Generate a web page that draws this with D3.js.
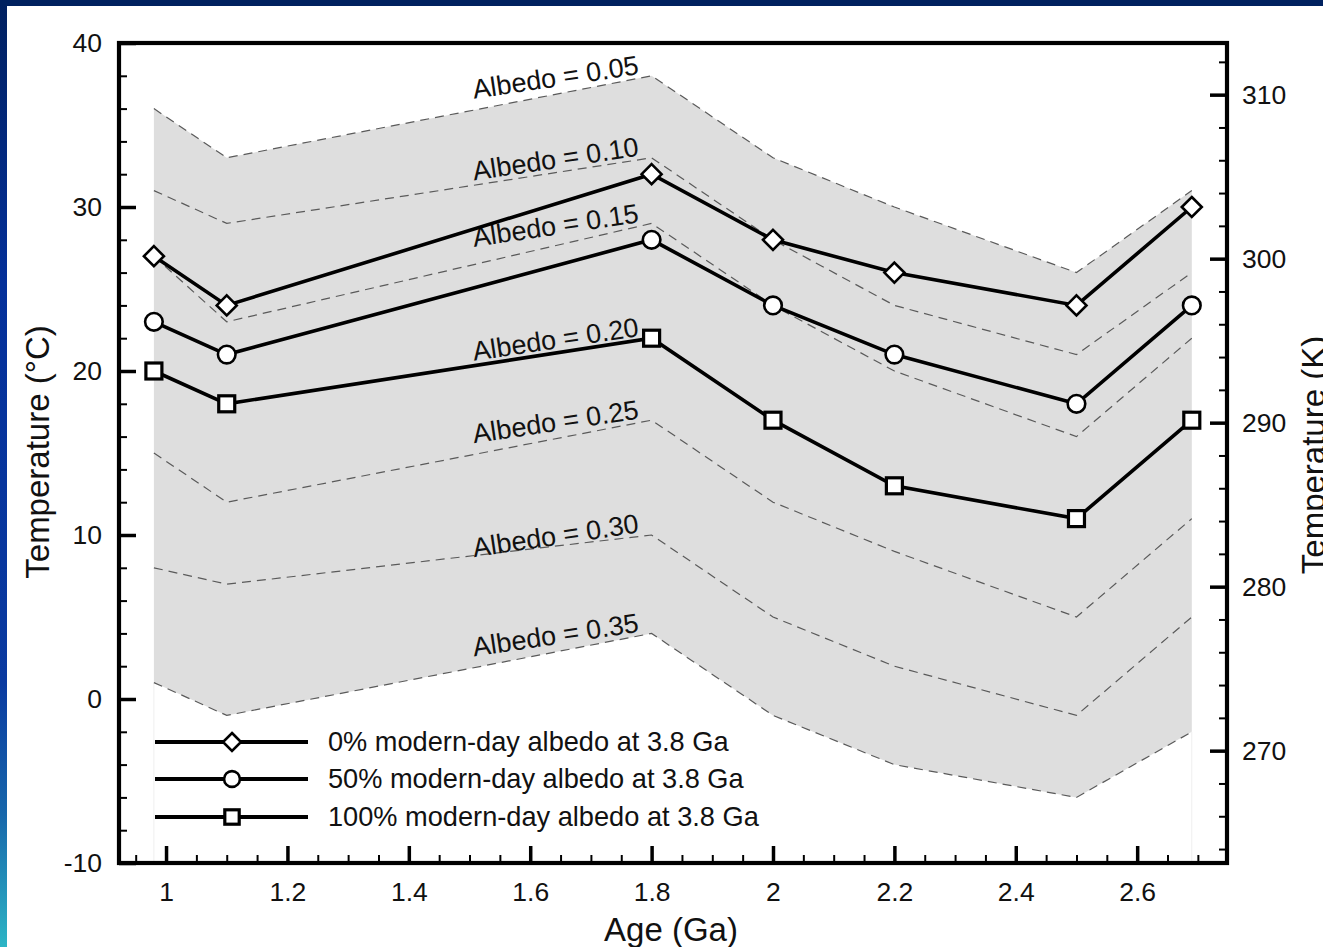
<!DOCTYPE html>
<html><head><meta charset="utf-8">
<script src="https://cdn.jsdelivr.net/npm/d3@7"></script>
<style>html,body{margin:0;padding:0;background:#fff;overflow:hidden}</style>
</head><body>
<svg id="c" width="1323" height="947"></svg>
<script>
// ---- data ----
const ages = [0.98, 1.1, 1.8, 2.0, 2.2, 2.5, 2.69];
const series0 = [27, 24, 32, 28, 26, 24, 30];
const series50 = [23, 21, 28, 24, 21, 18, 24];
const series100 = [20, 18, 22, 17, 13, 11, 17];
const albedo05 = [36, 33, 38, 33, 30, 26, 31];
const albedo10 = [31, 29, 33, 28, 24, 21, 26];
const albedo15 = [27, 23, 29, 24, 20, 16, 22];
const albedo20 = [20, 18, 22, 17, 13, 11, 17];
const albedo25 = [15, 12, 17, 12, 9, 5, 11];
const albedo30 = [8, 7, 10, 5, 2, -1, 5];
const albedo35 = [1, -1, 4, -1, -4, -6, -2];
const albedoNames = ["Albedo = 0.05", "Albedo = 0.10", "Albedo = 0.15", "Albedo = 0.20", "Albedo = 0.25", "Albedo = 0.30", "Albedo = 0.35"];
const seriesNames = ["0% modern-day albedo at 3.8 Ga", "50% modern-day albedo at 3.8 Ga", "100% modern-day albedo at 3.8 Ga"];
const xTicks = [1, 1.2, 1.4, 1.6, 1.8, 2, 2.2, 2.4, 2.6];
const yTicksC = [-10, 0, 10, 20, 30, 40];
const yTicksK = [270, 280, 290, 300, 310];
const xTitle = "Age (Ga)";
const yTitleC = "Temperature (\u00B0C)";
const yTitleK = "Temperature (K)";

// ---- layout ----
const W = 1323, H = 947;
const L = 119, R = 1227, T = 43, B = 863;
const FONT = "'Liberation Sans', Arial, Helvetica, sans-serif";
const svg = d3.select("#c").style("font-family", FONT);

// background frame
const defs = svg.append("defs");
const grad = defs.append("linearGradient").attr("id", "lg").attr("x1", 0).attr("y1", 0).attr("x2", 0).attr("y2", 1);
[[0, "#00205f"], [0.3, "#04309a"], [0.72, "#0a3aa0"], [0.86, "#1767ab"], [1, "#2db5c5"]]
  .forEach(([o, c]) => grad.append("stop").attr("offset", o).attr("stop-color", c));
svg.append("rect").attr("width", W).attr("height", H).attr("fill", "#fff");
svg.append("rect").attr("x", 0).attr("y", 0).attr("width", 7).attr("height", H).attr("fill", "url(#lg)");
svg.append("rect").attr("x", 0).attr("y", 0).attr("width", W).attr("height", 6).attr("fill", "#00215f");

const x = d3.scaleLinear().domain([0.9225, 2.748]).range([L, R]);
const y = d3.scaleLinear().domain([-10, 40]).range([B, T]);
const yK = d3.scaleLinear().domain([263.15, 313.15]).range([B, T]);

const rows = (arr) => ages.map((a, i) => ({a, v: arr[i]}));
const albedos = [albedo05, albedo10, albedo15, albedo20, albedo25, albedo30, albedo35];

// grey band
svg.append("path")
  .datum(ages.map((a, i) => ({a, top: albedo05[i], bot: albedo35[i]})))
  .attr("d", d3.area().x(d => x(d.a)).y0(d => y(d.bot)).y1(d => y(d.top)))
  .attr("fill", "#dedede");

// faint vertical edges below band
[0, ages.length - 1].forEach(i => {
  svg.append("line").attr("x1", x(ages[i])).attr("x2", x(ages[i]))
    .attr("y1", y(albedo35[i])).attr("y2", B)
    .attr("stroke", "#efefef").attr("stroke-width", 1);
});

// dashed albedo lines
const line = d3.line().x(d => x(d.a)).y(d => y(d.v));
albedos.forEach(arr => {
  svg.append("path").datum(rows(arr)).attr("d", line)
    .attr("fill", "none").attr("stroke", "#5a5a5a").attr("stroke-width", 1.2)
    .attr("stroke-dasharray", "9,6");
});

// albedo labels along 1.1 -> 1.8 segment
albedos.forEach((arr, k) => {
  const x1 = x(ages[1]), y1 = y(arr[1]), x2 = x(ages[2]), y2 = y(arr[2]);
  const xe = x2 - 12;
  const ye = y1 + (y2 - y1) * (xe - x1) / (x2 - x1) - 4;
  svg.append("text")
    .attr("transform", `translate(${xe},${ye}) rotate(-8.5)`)
    .attr("text-anchor", "end")
    .attr("font-size", 27)
    .attr("fill", "#111")
    .text(albedoNames[k]);
});

// series
const seriesList = [series0, series50, series100];
const shapes = ["diamond", "circle", "square"];
function marker(g, shape, cx, cy, scale) {
  const s = scale || 1;
  if (shape === "diamond") {
    const r = 10 * s;
    g.append("path").attr("d", `M${cx},${cy - r}L${cx + r},${cy}L${cx},${cy + r}L${cx - r},${cy}Z`)
      .attr("fill", "#fff").attr("stroke", "#000").attr("stroke-width", 2.6);
  } else if (shape === "circle") {
    g.append("circle").attr("cx", cx).attr("cy", cy).attr("r", 8.8 * s)
      .attr("fill", "#fff").attr("stroke", "#000").attr("stroke-width", 2.6);
  } else {
    const h = 8 * s;
    g.append("rect").attr("x", cx - h).attr("y", cy - h).attr("width", 2 * h).attr("height", 2 * h)
      .attr("fill", "#fff").attr("stroke", "#000").attr("stroke-width", 3.2);
  }
}
seriesList.forEach((arr, k) => {
  svg.append("path").datum(rows(arr)).attr("d", line)
    .attr("fill", "none").attr("stroke", "#000").attr("stroke-width", 3.6);
  const g = svg.append("g");
  rows(arr).forEach(d => marker(g, shapes[k], x(d.a), y(d.v)));
});

// axes
function styleAxis(g, w) {
  g.select(".domain").remove();
  g.selectAll(".tick line").attr("stroke", "#000").attr("stroke-width", w);
  g.selectAll(".tick text").attr("fill", "#111").attr("font-family", FONT);
}
const range = (a, b, s) => { const o = []; for (let v = a; v <= b + 1e-9; v += s) o.push(+v.toFixed(4)); return o; };
const minorC = range(-8, 38, 2).filter(v => v % 10 !== 0);
const minorK = range(264, 312, 2).filter(v => v % 10 !== 0);
const minorX = range(0.95, 2.7, 0.05).filter(v => Math.abs(v * 5 - Math.round(v * 5)) > 1e-6);

const gl = svg.append("g").attr("transform", `translate(${L},0)`)
  .call(d3.axisLeft(y).tickValues(yTicksC).tickSize(-17).tickPadding(17).tickFormat(d => String(d)))
  .attr("font-size", 26.5);
styleAxis(gl, 3.5);
const glm = svg.append("g").attr("transform", `translate(${L},0)`)
  .call(d3.axisLeft(y).tickValues(minorC).tickSize(-8).tickFormat(""));
styleAxis(glm, 2);

const gr = svg.append("g").attr("transform", `translate(${R},0)`)
  .call(d3.axisRight(yK).tickValues(yTicksK).tickSize(-17).tickPadding(15).tickFormat(d => String(d)))
  .attr("font-size", 26.5);
styleAxis(gr, 3.5);
const grm = svg.append("g").attr("transform", `translate(${R},0)`)
  .call(d3.axisRight(yK).tickValues(minorK).tickSize(-8).tickFormat(""));
styleAxis(grm, 2);

const gb = svg.append("g").attr("transform", `translate(0,${B})`)
  .call(d3.axisBottom(x).tickValues(xTicks).tickSize(-17).tickPadding(19).tickFormat(d => String(d)))
  .attr("font-size", 26.5);
styleAxis(gb, 3.5);
const gbm = svg.append("g").attr("transform", `translate(0,${B})`)
  .call(d3.axisBottom(x).tickValues(minorX).tickSize(-8).tickFormat(""));
styleAxis(gbm, 2);

// frame
svg.append("rect").attr("x", L).attr("y", T).attr("width", R - L).attr("height", B - T)
  .attr("fill", "none").attr("stroke", "#000").attr("stroke-width", 4.2);

// titles
svg.append("text").attr("x", 671).attr("y", 941).attr("text-anchor", "middle")
  .attr("font-size", 33).attr("fill", "#111").text(xTitle);
svg.append("text").attr("transform", "translate(49,452) rotate(-90)").attr("text-anchor", "middle")
  .attr("font-size", 33).attr("fill", "#111").text(yTitleC);
svg.append("text").attr("transform", "translate(1325,455) rotate(-90)").attr("text-anchor", "middle")
  .attr("font-size", 33).attr("fill", "#111").text(yTitleK);

// legend
const legY = [742, 779, 817];
seriesNames.forEach((name, k) => {
  const g = svg.append("g");
  g.append("line").attr("x1", 155).attr("x2", 308).attr("y1", legY[k]).attr("y2", legY[k])
    .attr("stroke", "#000").attr("stroke-width", 4);
  marker(g, shapes[k], 232, legY[k], 0.9);
  g.append("text").attr("x", 328).attr("y", legY[k] + 9).attr("font-size", 27.2)
    .attr("fill", "#111").text(name);
});
</script>
</body></html>
